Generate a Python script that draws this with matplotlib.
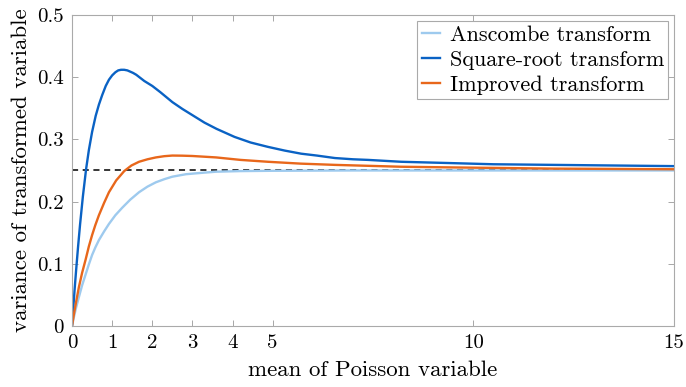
import numpy as np
import matplotlib
matplotlib.use("Agg")
import matplotlib.pyplot as plt

plt.rcParams['font.family'] = 'serif'
plt.rcParams['font.serif'] = ['cmr10']
plt.rcParams['mathtext.fontset'] = 'cm'
plt.rcParams['axes.unicode_minus'] = False

# variance of each transformed Poisson variable against its mean
mean_sqrt = [0.0, 0.03, 0.06, 0.1, 0.15, 0.2, 0.27, 0.35, 0.42, 0.5, 0.59, 0.67, 0.75,
             0.84, 0.92, 1.0, 1.08, 1.15, 1.22, 1.3, 1.38, 1.45, 1.52, 1.6, 1.7, 1.8,
             1.9, 2.0, 2.2, 2.5, 2.75, 3.0, 3.3, 3.6, 4.05, 4.45, 4.88, 5.3, 5.71,
             6.1, 6.55, 7.0, 7.38, 8.2, 9.37, 10.5, 12.0, 13.5, 15.0]
var_sqrt = [0.0, 0.027, 0.055, 0.088, 0.127, 0.163, 0.208, 0.252, 0.283, 0.312, 0.338, 0.356, 0.371,
            0.386, 0.396, 0.403, 0.408, 0.411, 0.412, 0.412, 0.411, 0.409, 0.407, 0.404, 0.399, 0.394,
            0.390, 0.386, 0.376, 0.360, 0.349, 0.339, 0.327, 0.317, 0.304, 0.295, 0.288, 0.282, 0.277,
            0.274, 0.270, 0.268, 0.267, 0.264, 0.262, 0.260, 0.259, 0.258, 0.257]

mean_ansc = [0.0, 0.05, 0.1, 0.17, 0.25, 0.34, 0.42, 0.5, 0.58, 0.67, 0.8, 0.92, 1.08,
             1.25, 1.45, 1.67, 1.88, 2.09, 2.3, 2.5, 2.84, 3.2, 3.59, 4.2, 5.0, 7.0,
             10.0, 15.0]
var_ansc = [0.0, 0.015, 0.029, 0.046, 0.065, 0.083, 0.099, 0.114, 0.126, 0.138, 0.152, 0.164, 0.178,
            0.19, 0.203, 0.215, 0.224, 0.231, 0.236, 0.24, 0.244, 0.246, 0.248, 0.249, 0.2495, 0.25,
            0.25, 0.25]

mean_impr = [0.0, 0.05, 0.1, 0.17, 0.25, 0.34, 0.42, 0.5, 0.58, 0.67, 0.8, 0.92, 1.1,
             1.3, 1.48, 1.67, 1.88, 2.09, 2.3, 2.5, 2.75, 3.0, 3.59, 4.2, 4.88, 5.7,
             6.55, 8.2, 9.37, 12.0, 15.0]
var_impr = [0.0, 0.02, 0.038, 0.062, 0.085, 0.107, 0.128, 0.146, 0.162, 0.178, 0.198, 0.215, 0.234,
            0.249, 0.258, 0.264, 0.268, 0.271, 0.273, 0.274, 0.2738, 0.2733, 0.271, 0.267,
            0.264, 0.261, 0.259, 0.256, 0.255, 0.253, 0.252]

fig = plt.figure(figsize=(6.86, 3.87), dpi=100)
ax = fig.add_axes([0.105, 0.158, 0.8775, 0.803])

ax.plot(mean_ansc, var_ansc, color='#9ecaee', lw=1.7, label='Anscombe transform')
ax.plot(mean_sqrt, var_sqrt, color='#0a62c4', lw=1.7, label='Square-root transform')
ax.plot(mean_impr, var_impr, color='#e8671b', lw=1.7, label='Improved transform')
ax.axhline(0.25, color='black', lw=1.1, ls=(0, (4, 3)), zorder=1)

ax.set_xlim(0, 15)
ax.set_ylim(0, 0.5)
ax.set_xticks([0, 1, 2, 3, 4, 5, 10, 15])
ax.set_xticklabels(['0', '1', '2', '3', '4', '5', '10', '15'])
ax.set_yticks([0, 0.1, 0.2, 0.3, 0.4, 0.5])
ax.set_yticklabels(['0', '0.1', '0.2', '0.3', '0.4', '0.5'])
ax.tick_params(direction='in', top=True, right=True, length=4, width=0.6,
               color='#999999', labelsize=15, pad=6)
for s in ax.spines.values():
    s.set_color('#aaaaaa')
    s.set_linewidth(0.8)

ax.set_xlabel('mean of Poisson variable', fontsize=16.5, labelpad=6)
ax.set_ylabel('variance of transformed variable', fontsize=16.5, labelpad=4)

leg = ax.legend(loc='upper right', fontsize=16, handlelength=0.8, handletextpad=0.45,
                borderpad=0.2, labelspacing=0.25, fancybox=False, framealpha=1,
                borderaxespad=0.25)
leg.get_frame().set_edgecolor('#aaaaaa')
leg.get_frame().set_linewidth(0.8)

fig.savefig('out.png', dpi=100)
